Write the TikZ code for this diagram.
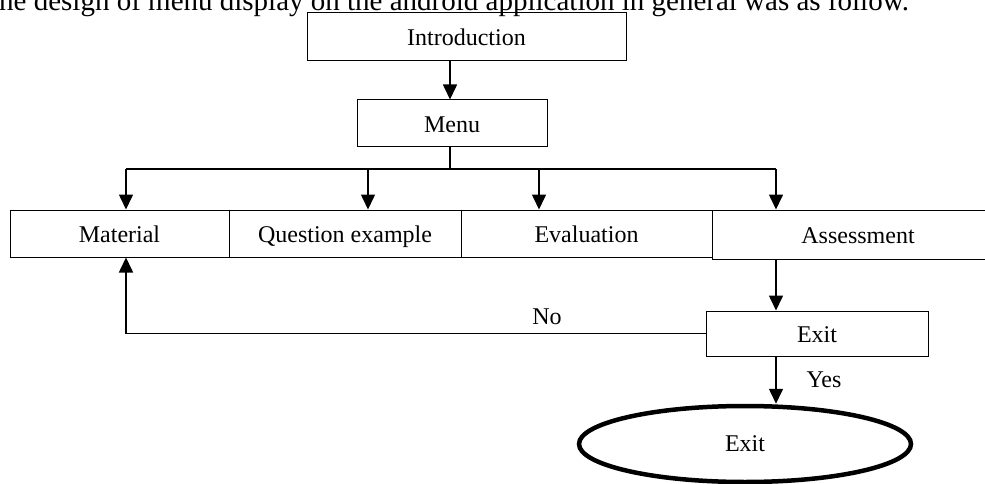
\documentclass[tikz,border=0pt]{standalone}
\usepackage{fontspec}
\setmainfont{Liberation Serif}
\usetikzlibrary{arrows.meta,shapes.geometric}
\begin{document}
\begin{tikzpicture}[x=1pt,y=-1pt,
	box/.style={draw,line width=1pt,minimum height=47pt,inner sep=0pt,text height=22pt,text depth=4pt,font=\fontsize{24}{28}\selectfont},
	arr/.style={line width=1.6pt,-{Triangle[width=14pt,length=15pt]}},
	link/.style={line width=1.6pt},
	lbl/.style={font=\fontsize{24}{28}\selectfont}]
\useasboundingbox (0,0) rectangle (985,484);
\clip (0,0) rectangle (985,484);
\node [anchor=base west,inner sep=0pt,font=\fontsize{29}{33}\selectfont] (caption) at (-1,11) {he design of menu display on the android application in general was as follow.};
\node [box,minimum width=319pt,minimum height=48pt] (intro) at (466.5,37) {Introduction};
\node [box,minimum width=190pt] (menu) at (452,123.5) {Menu};
\node [box,minimum width=219pt] (material) at (119.5,233.5) {Material};
\node [box,minimum width=232pt] (question) at (345,233.5) {Question example};
\node [box,minimum width=251pt] (evaluation) at (586.5,233.5) {Evaluation};
\node [box,minimum width=292pt,minimum height=49pt] (assessment) at (858,234.5) {Assessment};
\node [box,minimum width=222pt,minimum height=45pt] (check) at (817,333.5) {Exit};
\node [draw,ellipse,line width=4.5pt,minimum width=332pt,minimum height=76pt,inner sep=0pt,lbl] (finish) at (745,444) {Exit};
\coordinate (split) at (450,169);
\coordinate (to material) at (126,169);
\coordinate (to question) at (368,169);
\coordinate (to evaluation) at (539,169);
\coordinate (to assessment) at (776,169);
\draw [arr] (intro.south -| split) -- (menu.north -| split);
\draw [link] (menu.south -| split) -- (split);
\draw [link] (to material) -- (to assessment);
\draw [arr] (to material) -- (material.north -| to material);
\draw [arr] (to question) -- (question.north -| to question);
\draw [arr] (to evaluation) -- (evaluation.north -| to evaluation);
\draw [arr] (to assessment) -- (assessment.north -| to assessment);
\draw [arr] (assessment.south -| to assessment) -- (check.north -| to assessment);
\draw [arr] (check.west) -| (material.south -| to material);
\node [lbl] (no) at (547,317) {No};
\draw [arr] (check.south -| to assessment) -- (finish.north -| to assessment);
\node [lbl] (yes) at (824,380) {Yes};
\end{tikzpicture}
\end{document}
